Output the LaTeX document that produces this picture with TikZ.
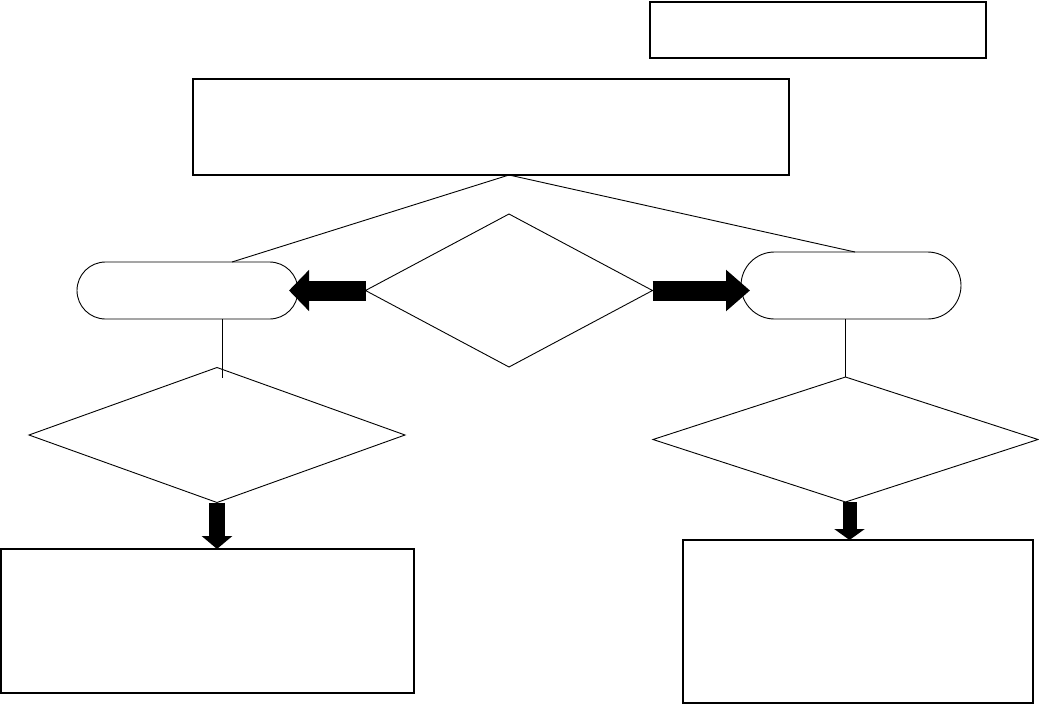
\documentclass[tikz,border=0pt]{standalone}
\usetikzlibrary{shapes.geometric,arrows.meta}
\begin{document}
\begin{tikzpicture}[x=1pt,y=-1pt,
  box/.style={draw,rectangle,inner sep=0pt,outer sep=0pt,line width=1.2pt},
  pill/.style={draw,rectangle,inner sep=0pt,outer sep=0pt,line width=0.9pt},
  dia/.style={draw,diamond,inner sep=0pt,outer sep=0pt,line width=0.9pt},
  thin/.style={line width=0.9pt},
  fatarrow/.style={line width=19pt}
]
\useasboundingbox (0,0) rectangle (1039,704);
\node[box,minimum width=336pt,minimum height=56pt] (tr) at (818,30) {};
\node[box,minimum width=596pt,minimum height=96pt] (main) at (491,127) {};
\node[pill,minimum width=221pt,minimum height=57pt,rounded corners=28.5pt] (ls) at (187.5,290.5) {};
\node[pill,minimum width=220pt,minimum height=67pt,rounded corners=33.5pt] (rs) at (851,285.5) {};
\node[dia,minimum width=287pt,minimum height=153pt] (cd) at (509,290.5) {};
\node[dia,minimum width=376pt,minimum height=135pt] (ld) at (217,435) {};
\node[dia,minimum width=385pt,minimum height=125pt] (rd) at (845.5,439.5) {};
\node[box,minimum width=413pt,minimum height=144pt] (lb) at (207.5,621) {};
\node[box,minimum width=350pt,minimum height=163pt] (rb) at (858,621.5) {};
% lines from main box
\draw[thin] ([xshift=18pt]main.south) -- ([xshift=44.5pt]ls.north);
\draw[thin] ([xshift=18pt]main.south) -- ([xshift=4pt]rs.north);
% block arrows
\draw[line width=20pt,-{Triangle[length=20pt,width=40pt]}] (cd.west) -- ([xshift=-9pt]ls.east |- cd.west);
\draw[line width=20pt,-{Triangle[length=24pt,width=40pt]}] (cd.east) -- ([xshift=9pt]cd.east -| rs.west);
% vertical lines
\draw[thin] ([xshift=5pt]ld.north |- ls.south) -- ([xshift=5pt,yshift=-10pt]ld.north);
\draw[thin] (rs.south -| rd.north) -- (rd.north);
% down arrows
\draw[line width=16pt,-{Triangle[length=13pt,width=30pt]}] (ld.south) -- (ld.south |- lb.north);
\draw[line width=14pt,-{Triangle[length=11pt,width=30pt]}] ([xshift=4pt]rd.south) -- ([xshift=4pt]rd.south |- rb.north);
\end{tikzpicture}
\end{document}
